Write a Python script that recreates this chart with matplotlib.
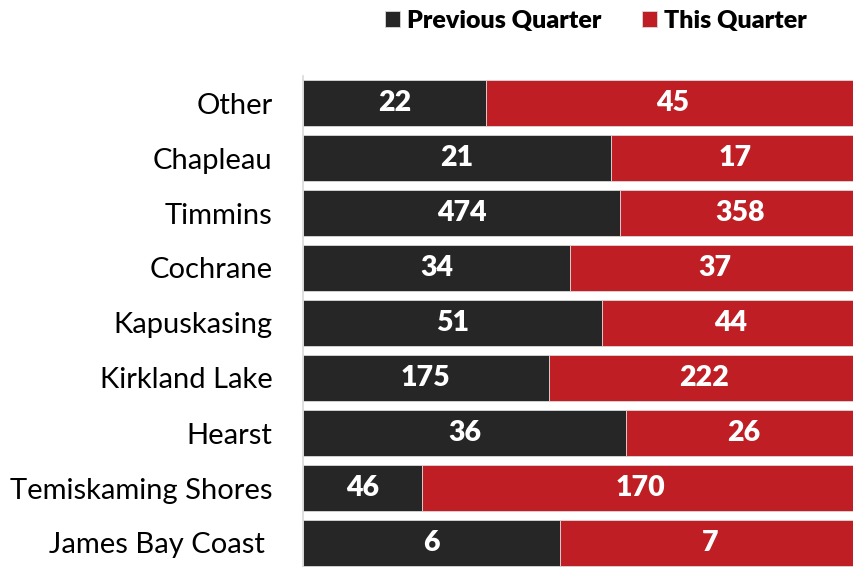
import matplotlib.pyplot as plt
import numpy as np

# data (top to bottom as shown)
regions = ['Other', 'Chapleau', 'Timmins', 'Cochrane', 'Kapuskasing',
           'Kirkland Lake', 'Hearst', 'Temiskaming Shores', 'James Bay Coast ']
previous = [22, 21, 474, 34, 51, 175, 36, 46, 6]
this_q = [45, 17, 358, 37, 44, 222, 26, 170, 7]

dark = '#262626'
red = '#BE1E24'

plt.rcParams['font.family'] = ['Lato', 'DejaVu Sans']

fig = plt.figure(figsize=(8.54, 5.67), dpi=100)
ax = fig.add_axes([303 / 854, -3.5 / 567, 557 / 854, 495 / 567])

prev = np.array(previous, dtype=float)
cur = np.array(this_q, dtype=float)
tot = prev + cur
p_share = prev / tot
c_share = cur / tot
y = np.arange(len(regions))

ax.barh(y, p_share, height=0.85, color=dark, edgecolor='#d9d9d9', linewidth=0.6,
        label='Previous Quarter')
ax.barh(y, c_share, left=p_share, height=0.85, color=red, edgecolor='#d9d9d9',
        linewidth=0.6, label='This Quarter')

for i in range(len(regions)):
    ax.text(p_share[i] / 2, y[i], str(previous[i]), ha='center', va='center',
            color='white', fontsize=20.5, fontweight='heavy')
    ax.text(p_share[i] + c_share[i] / 2, y[i], str(this_q[i]), ha='center',
            va='center', color='white', fontsize=20.5, fontweight='heavy')

ax.set_xlim(0, 1)
ax.set_ylim(len(regions) - 0.5, -0.5)
ax.set_yticks(y)
ax.set_yticklabels(regions, fontsize=21)
ax.tick_params(axis='y', length=0, pad=22)
ax.set_xticks([])
for s in ['top', 'right', 'bottom']:
    ax.spines[s].set_visible(False)
ax.spines['left'].set_color('#d9d9d9')
ax.spines['left'].set_linewidth(1.2)

fig.legend(loc='center', bbox_to_anchor=(596 / 854, 1 - 21 / 567), ncol=2,
           frameon=False, handlelength=0.6, handleheight=0.6, handletextpad=0.3,
           columnspacing=1.6, prop={'size': 18, 'weight': 'heavy'})

fig.savefig('out.png', dpi=100)
